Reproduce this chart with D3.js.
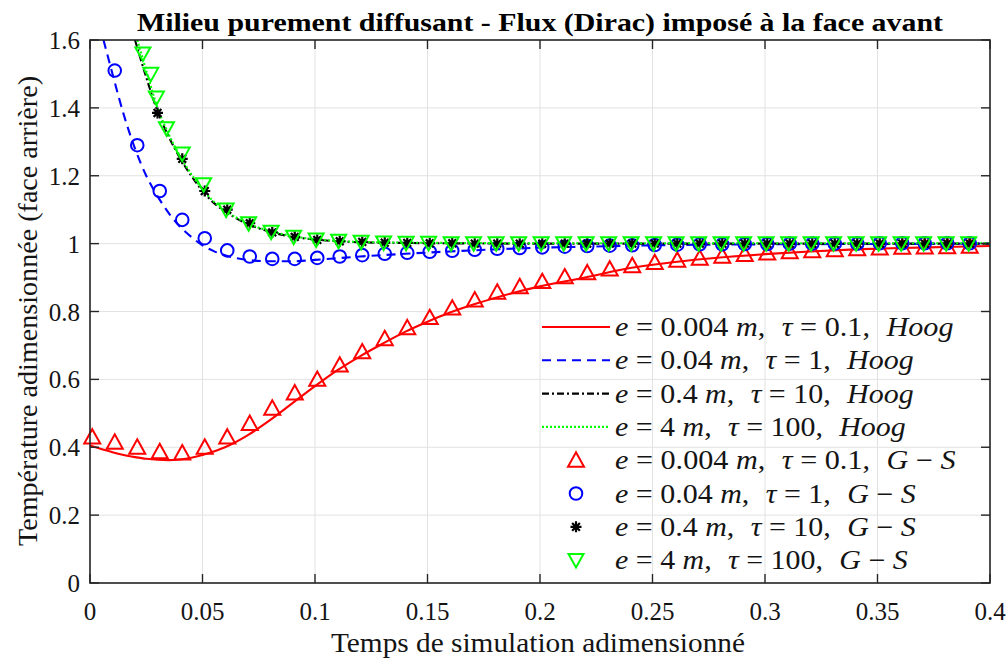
<!DOCTYPE html>
<html><head><meta charset="utf-8">
<script src="https://cdn.jsdelivr.net/npm/d3@7"></script>
<style>body{margin:0;background:#fff}svg{display:block}</style>
</head><body>
<svg id="c" width="1007" height="661"></svg>
<script>
// ---------- data ----------
const xTicks = [0, 0.05, 0.1, 0.15, 0.2, 0.25, 0.3, 0.35, 0.4];
const xTickLabels = ["0","0.05","0.1","0.15","0.2","0.25","0.3","0.35","0.4"];
const yTicks = [0, 0.2, 0.4, 0.6, 0.8, 1, 1.2, 1.4, 1.6];
const yTickLabels = ["0","0.2","0.4","0.6","0.8","1","1.2","1.4","1.6"];

// Hoog (lines)
const tHoogRed = [0,0.005,0.01,0.015,0.02,0.025,0.03,0.035,0.04,0.045,0.05,0.06,0.07,0.08,0.09,0.10,0.11,0.12,0.13,0.14,0.15,0.16,0.17,0.18,0.19,0.20,0.22,0.24,0.26,0.28,0.30,0.32,0.34,0.36,0.38,0.40];
const vHoogRed = [0.405,0.395,0.385,0.377,0.371,0.366,0.363,0.362,0.364,0.369,0.377,0.40,0.435,0.48,0.53,0.58,0.627,0.668,0.705,0.74,0.77,0.797,0.82,0.84,0.858,0.874,0.90,0.928,0.946,0.959,0.969,0.977,0.983,0.987,0.990,0.993];

const tHoogBlue = [0.006,0.01,0.015,0.02,0.025,0.03,0.035,0.04,0.045,0.05,0.055,0.06,0.07,0.08,0.09,0.10,0.11,0.12,0.14,0.16,0.18,0.20,0.22,0.25,0.30,0.35,0.40];
const vHoogBlue = [1.60,1.50,1.38,1.28,1.20,1.14,1.09,1.05,1.02,0.995,0.978,0.966,0.952,0.948,0.948,0.952,0.957,0.962,0.970,0.977,0.983,0.988,0.991,0.995,0.998,0.999,1.0];

const tHoogBlack = [0.02,0.025,0.03,0.035,0.04,0.045,0.05,0.055,0.06,0.07,0.08,0.09,0.10,0.11,0.12,0.14,0.16,0.20,0.30,0.40];
const vHoogBlack = [1.60,1.49,1.39,1.315,1.252,1.20,1.155,1.12,1.095,1.058,1.035,1.02,1.012,1.007,1.004,1.002,1.001,1.0,1.0,1.0];

const tHoogGreen = [0.021,0.025,0.03,0.035,0.04,0.045,0.05,0.055,0.06,0.07,0.08,0.09,0.10,0.11,0.12,0.14,0.16,0.20,0.30,0.40];
const vHoogGreen = [1.60,1.51,1.40,1.322,1.258,1.205,1.16,1.124,1.098,1.06,1.037,1.022,1.013,1.008,1.005,1.003,1.002,1.001,1.001,1.001];

// G-S (markers)
const tGSRed = [0.001,0.011,0.021,0.031,0.041,0.051,0.061,0.071,0.081,0.091,0.101,0.111,0.121,0.131,0.141,0.151,0.161,0.171,0.181,0.191,0.201,0.211,0.221,0.231,0.241,0.251,0.261,0.271,0.281,0.291,0.301,0.311,0.321,0.331,0.341,0.351,0.361,0.371,0.381,0.391];
const vGSRed = [0.43,0.415,0.40,0.387,0.383,0.40,0.43,0.47,0.515,0.56,0.60,0.642,0.681,0.72,0.752,0.782,0.81,0.834,0.857,0.873,0.888,0.902,0.914,0.925,0.935,0.944,0.951,0.957,0.963,0.968,0.972,0.976,0.979,0.982,0.985,0.987,0.989,0.990,0.991,0.992];

const tGSBlue = [0.011,0.021,0.031,0.041,0.051,0.061,0.071,0.081,0.091,0.101,0.111,0.121,0.131,0.141,0.151,0.161,0.171,0.181,0.191,0.201,0.211,0.221,0.231,0.241,0.251,0.261,0.271,0.281,0.291,0.301,0.311,0.321,0.331,0.341,0.351,0.361,0.371,0.381,0.391];
const vGSBlue = [1.51,1.29,1.155,1.07,1.016,0.98,0.962,0.955,0.955,0.958,0.962,0.966,0.970,0.973,0.976,0.979,0.982,0.985,0.987,0.989,0.991,0.993,0.994,0.995,0.996,0.997,0.998,0.998,0.999,0.999,1.0,1.0,1.0,1.0,1.001,1.001,1.001,1.001,1.001];

const tGSBlack = [0.030,0.041,0.051,0.061,0.071,0.081,0.091,0.101,0.111,0.121,0.131,0.141,0.151,0.161,0.171,0.181,0.191,0.201,0.211,0.221,0.231,0.241,0.251,0.261,0.271,0.281,0.291,0.301,0.311,0.321,0.331,0.341,0.351,0.361,0.371,0.381,0.391];
const vGSBlack = [1.385,1.25,1.155,1.10,1.06,1.033,1.02,1.011,1.007,1.005,1.003,1.002,1.001,1.001,1.0,1.0,1.0,1.0,1.0,1.0,1.0,1.0,1.0,1.0,1.0,1.0,1.0,1.0,1.0,1.0,1.0,1.0,1.0,1.0,1.0,1.0,1.0];

const tGSGreen = [0.0235,0.027,0.0295,0.034,0.041,0.0505,0.0605,0.0705,0.0805,0.0905,0.1005,0.1105,0.1205,0.1305,0.1405,0.1505,0.1605,0.1705,0.1805,0.1905,0.2005,0.2105,0.2205,0.2305,0.2405,0.2505,0.2605,0.2705,0.2805,0.2905,0.3005,0.3105,0.3205,0.3305,0.3405,0.3505,0.3605,0.3705,0.3805,0.3905];
const vGSGreen = [1.56,1.50,1.43,1.34,1.265,1.175,1.10,1.06,1.035,1.02,1.012,1.008,1.005,1.003,1.002,1.002,1.001,1.001,1.001,1.001,1.001,1.001,1.001,1.001,1.001,1.001,1.001,1.001,1.001,1.001,1.001,1.001,1.001,1.001,1.001,1.001,1.001,1.001,1.001,1.001];

const legendLabels = [
  ["e","0.004","0.1","Hoog"],["e","0.04","1","Hoog"],["e","0.4","10","Hoog"],["e","4","100","Hoog"],
  ["e","0.004","0.1","G−S"],["e","0.04","1","G−S"],["e","0.4","10","G−S"],["e","4","100","G−S"]
];
const titleText = "Milieu purement diffusant - Flux (Dirac) imposé à la face avant";
const xLabel = "Temps de simulation adimensionné";
const yLabel = "Température adimensionnée (face arrière)";

// ---------- drawing ----------
const svg = d3.select("#c");
const L = 90, R = 990, T = 40, B = 583;
const x = d3.scaleLinear().domain([0, 0.4]).range([L, R]);
const y = d3.scaleLinear().domain([0, 1.6]).range([B, T]);
const serif = "'Liberation Serif','Times New Roman',serif";
const axCol = "#262626";
const txtCol = "#141414";

function stretch(sel, factor) {
  sel.each(function() {
    const w = this.getComputedTextLength();
    d3.select(this).attr("textLength", w * factor).attr("lengthAdjust", "spacingAndGlyphs");
  });
}
function fitWidth(sel, target) {
  sel.attr("textLength", target).attr("lengthAdjust", "spacingAndGlyphs");
}

// grid
const g = svg.append("g");
g.selectAll(".gx").data(xTicks).enter().append("line")
  .attr("x1", d => x(d)).attr("x2", d => x(d)).attr("y1", T).attr("y2", B)
  .attr("stroke", "#e2e2e2").attr("stroke-width", 1);
g.selectAll(".gy").data(yTicks).enter().append("line")
  .attr("y1", d => y(d)).attr("y2", d => y(d)).attr("x1", L).attr("x2", R)
  .attr("stroke", "#e2e2e2").attr("stroke-width", 1);

// clip
svg.append("clipPath").attr("id", "clip").append("rect")
  .attr("x", L).attr("y", T).attr("width", R - L).attr("height", B - T);

const line = d3.line().x(d => x(d[0])).y(d => y(d[1])).curve(d3.curveMonotoneX);
const zip = (a, b) => a.map((t, i) => [t, b[i]]);

const series = [
  {t: tHoogRed, v: vHoogRed, color: "#ff0000", dash: null},
  {t: tHoogBlue, v: vHoogBlue, color: "#0000ff", dash: "9,6"},
  {t: tHoogBlack, v: vHoogBlack, color: "#000000", dash: "7,3,2,3"},
  {t: tHoogGreen, v: vHoogGreen, color: "#00ff00", dash: "2,2"}
];
const lg = svg.append("g").attr("clip-path", "url(#clip)");
series.forEach(s => {
  lg.append("path").datum(zip(s.t, s.v)).attr("d", line)
    .attr("fill", "none").attr("stroke", s.color).attr("stroke-width", 2.1)
    .attr("stroke-dasharray", s.dash);
});

// marker paths
function triUp(sz) { const h = sz * 0.9, w = sz; return `M0,${-h*0.55}L${w/2},${h*0.45}L${-w/2},${h*0.45}Z`; }
function triDown(sz) { const h = sz * 0.9, w = sz; return `M0,${h*0.55}L${w/2},${-h*0.45}L${-w/2},${-h*0.45}Z`; }
function star(sz) {
  const r = sz / 2, a = r * 0.707;
  return `M${-r},0L${r},0M0,${-r}L0,${r}M${-a},${-a}L${a},${a}M${-a},${a}L${a},${-a}`;
}
const markerSeries = [
  {t: tGSRed, v: vGSRed, color: "#ff0000", path: triUp(16)},
  {t: tGSBlue, v: vGSBlue, color: "#0000ff", path: null},
  {t: tGSBlack, v: vGSBlack, color: "#000000", path: star(11)},
  {t: tGSGreen, v: vGSGreen, color: "#00ff00", path: triDown(15)}
];
const mg = svg.append("g");
function drawMarker(sel, ms) {
  if (ms.path === null) {
    sel.append("circle").attr("r", 6.3).attr("fill", "none").attr("stroke", ms.color).attr("stroke-width", 2);
  } else {
    sel.append("path").attr("d", ms.path).attr("fill", "none").attr("stroke", ms.color)
      .attr("stroke-width", ms.path.includes("Z") ? 2 : 2.2).attr("stroke-linejoin", "miter");
  }
}
markerSeries.forEach(ms => {
  zip(ms.t, ms.v).forEach(p => {
    const s = mg.append("g").attr("transform", `translate(${x(p[0])},${y(p[1])})`);
    drawMarker(s, ms);
  });
});

// axes box & ticks
const ax = svg.append("g");
ax.append("rect").attr("x", L).attr("y", T).attr("width", R - L).attr("height", B - T)
  .attr("fill", "none").attr("stroke", axCol).attr("stroke-width", 1.6);
const tk = 9;
xTicks.forEach(d => {
  ax.append("line").attr("x1", x(d)).attr("x2", x(d)).attr("y1", B).attr("y2", B - tk).attr("stroke", axCol).attr("stroke-width", 1.4);
  ax.append("line").attr("x1", x(d)).attr("x2", x(d)).attr("y1", T).attr("y2", T + tk).attr("stroke", axCol).attr("stroke-width", 1.4);
});
yTicks.forEach(d => {
  ax.append("line").attr("y1", y(d)).attr("y2", y(d)).attr("x1", L).attr("x2", L + tk).attr("stroke", axCol).attr("stroke-width", 1.4);
  ax.append("line").attr("y1", y(d)).attr("y2", y(d)).attr("x1", R).attr("x2", R - tk).attr("stroke", axCol).attr("stroke-width", 1.4);
});
ax.selectAll(".xl").data(xTicks).enter().append("text")
  .attr("x", d => x(d)).attr("y", 620).attr("text-anchor", "middle")
  .attr("font-family", serif).attr("font-size", 25).attr("fill", txtCol)
  .text((d, i) => xTickLabels[i]);
ax.selectAll(".yl").data(yTicks).enter().append("text")
  .attr("x", 80).attr("y", d => y(d) + 9).attr("text-anchor", "end")
  .attr("font-family", serif).attr("font-size", 25).attr("fill", txtCol)
  .text((d, i) => yTickLabels[i]);

// titles
fitWidth(svg.append("text").attr("x", 540).attr("y", 31).attr("text-anchor", "middle")
  .attr("font-family", serif).attr("font-weight", "bold").attr("font-size", 26).attr("fill", "#000")
  .text(titleText), 806);
fitWidth(svg.append("text").attr("x", 538).attr("y", 652).attr("text-anchor", "middle")
  .attr("font-family", serif).attr("font-size", 28).attr("fill", txtCol).text(xLabel), 414);
fitWidth(svg.append("text").attr("transform", "translate(37,311) rotate(-90)").attr("text-anchor", "middle")
  .attr("font-family", serif).attr("font-size", 28).attr("fill", txtCol).text(yLabel), 470);

// legend
const legY0 = 327, legDy = 33.3;
const leg = svg.append("g");
legendLabels.forEach((lab, i) => {
  const yy = legY0 + i * legDy;
  if (i < 4) {
    const s = series[i];
    leg.append("line").attr("x1", 542).attr("x2", 610).attr("y1", yy).attr("y2", yy)
      .attr("stroke", s.color).attr("stroke-width", 2.1).attr("stroke-dasharray", s.dash);
  } else {
    const ms = markerSeries[i - 4];
    drawMarker(leg.append("g").attr("transform", `translate(576,${yy})`), ms);
  }
  const tx = leg.append("text").attr("x", 615).attr("y", yy + 9)
    .attr("font-family", serif).attr("font-size", 27).attr("fill", txtCol);
  tx.append("tspan").attr("font-style", "italic").text(lab[0]);
  tx.append("tspan").text(" = " + lab[1] + " ");
  tx.append("tspan").attr("font-style", "italic").text("m");
  tx.append("tspan").text(",  ");
  tx.append("tspan").attr("font-style", "italic").attr("dx", 8).text("τ");
  tx.append("tspan").text(" = " + lab[2] + ",  ");
  tx.append("tspan").attr("font-style", "italic").attr("dx", 8).text(lab[3] === "Hoog" ? "Hoog" : "G");
  if (lab[3] !== "Hoog") {
    tx.append("tspan").text(" − ");
    tx.append("tspan").attr("font-style", "italic").text("S");
  }
  stretch(tx, 1.18);
});
</script>
</body></html>
